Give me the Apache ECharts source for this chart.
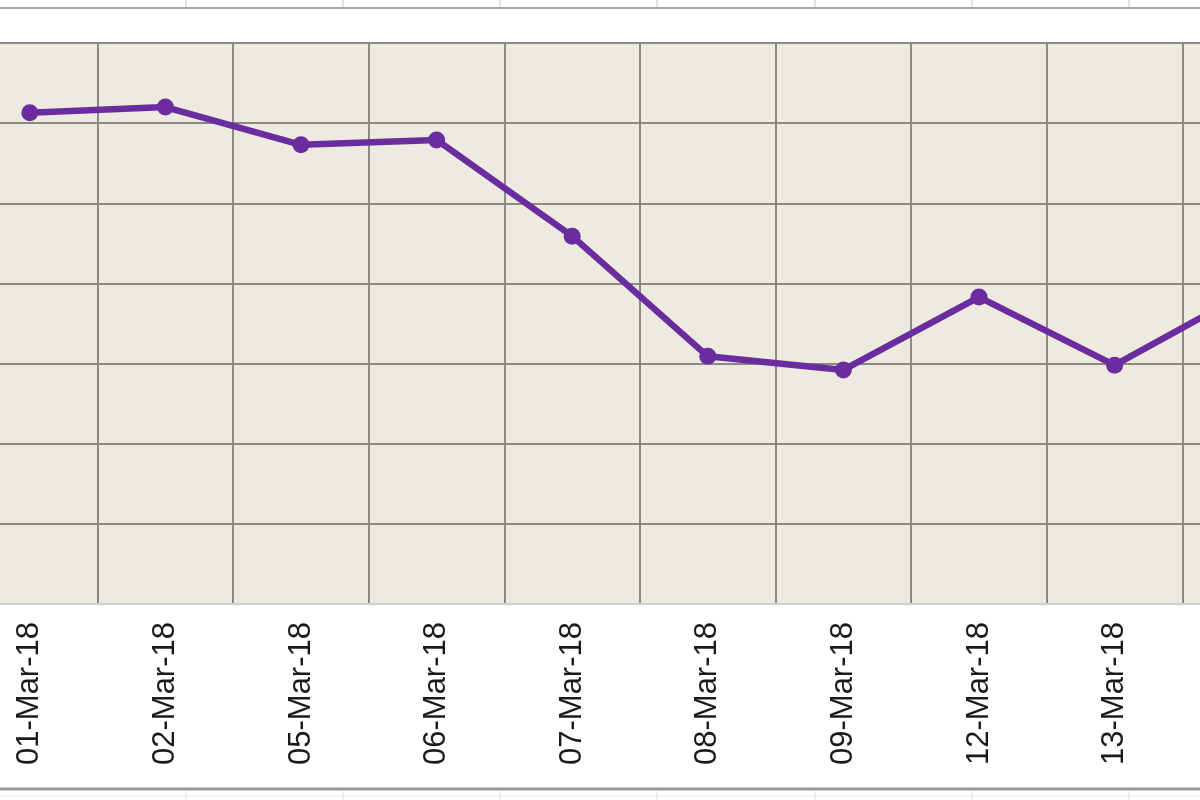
<!DOCTYPE html>
<html>
<head>
<meta charset="utf-8">
<title>Line chart</title>
<script src="https://cdn.jsdelivr.net/npm/echarts@6/dist/echarts.min.js"></script>
<style>
    html, body { margin: 0; padding: 0; background: #fff; overflow: hidden; }
    /* the picture is a crop of a wider chart: shift the canvas left */
    #chart { position: absolute; left: -38px; top: 0; width: 1360px; height: 800px; }
</style>
</head>
<body>
<div id="chart"></div>
<script>
// data (y labels are cut off, scale is an estimate)
var dates = ['01-Mar-18', '02-Mar-18', '05-Mar-18', '06-Mar-18', '07-Mar-18',
    '08-Mar-18', '09-Mar-18', '12-Mar-18', '13-Mar-18', '14-Mar-18'];
var values = [61.3, 62.0, 57.3, 57.9, 45.9, 30.9, 29.2, 38.3, 29.8, 39.1];
var yMin = 0;
var yMax = 70;
var yStep = 10;

(function () {
    var myChart = echarts.init(document.getElementById('chart'));
    var gridColor = '#8a8982';
    var off = 38; // canvas offset

    // spreadsheet cell borders around the chart object
    var cellX = [186, 343, 500, 657, 815, 972, 1129];
    var sheet = [];
    sheet.push({ type: 'line', shape: { x1: 0, y1: 8, x2: 1360, y2: 8 },
        style: { stroke: '#a6a6a6', lineWidth: 2 } });
    sheet.push({ type: 'line', shape: { x1: 0, y1: 789, x2: 1360, y2: 789 },
        style: { stroke: '#9a9a9a', lineWidth: 3 } });
    sheet.push({ type: 'line', shape: { x1: 0, y1: 796, x2: 1360, y2: 796 },
        style: { stroke: '#e2e2e2', lineWidth: 1 } });
    cellX.forEach(function (x) {
        sheet.push({ type: 'line', shape: { x1: x + off, y1: 0, x2: x + off, y2: 7 },
            style: { stroke: '#c8c8c8', lineWidth: 1 } });
        sheet.push({ type: 'line', shape: { x1: x + off, y1: 791, x2: x + off, y2: 800 },
            style: { stroke: '#e0e0e0', lineWidth: 1 } });
    });

    var option = {
        backgroundColor: '#ffffff',
        animation: false,
        grid: {
            left: 0,
            width: 1356,
            top: 43,
            bottom: 196,
            show: true,
            backgroundColor: '#edebe0',
            borderWidth: 0
        },
        xAxis: {
            type: 'category',
            data: dates,
            boundaryGap: true,
            axisLine: {
                lineStyle: { color: '#cfcfcf', width: 2 }
            },
            axisTick: { show: false },
            axisLabel: {
                rotate: 90,
                margin: 18,
                interval: 0,
                color: '#1a1a1a',
                fontFamily: 'Liberation Sans',
                fontSize: 31,
                padding: [6, 0, 0, 0]
            },
            splitLine: {
                show: true,
                interval: 0,
                lineStyle: { color: gridColor, width: 2 }
            }
        },
        yAxis: {
            type: 'value',
            min: yMin,
            max: yMax,
            interval: yStep,
            axisLine: { show: false },
            axisTick: { show: false },
            axisLabel: { show: false },
            splitLine: {
                lineStyle: { color: gridColor, width: 2 }
            }
        },
        series: [
            {
                type: 'line',
                data: values,
                symbol: 'circle',
                symbolSize: 17,
                lineStyle: { color: '#6a2c9e', width: 6.5 },
                itemStyle: { color: '#6a2c9e' }
            }
        ],
        graphic: sheet
    };
    myChart.setOption(option);
    window.addEventListener('resize', function () {
        myChart.resize();
    });
})();
</script>
</body>
</html>
